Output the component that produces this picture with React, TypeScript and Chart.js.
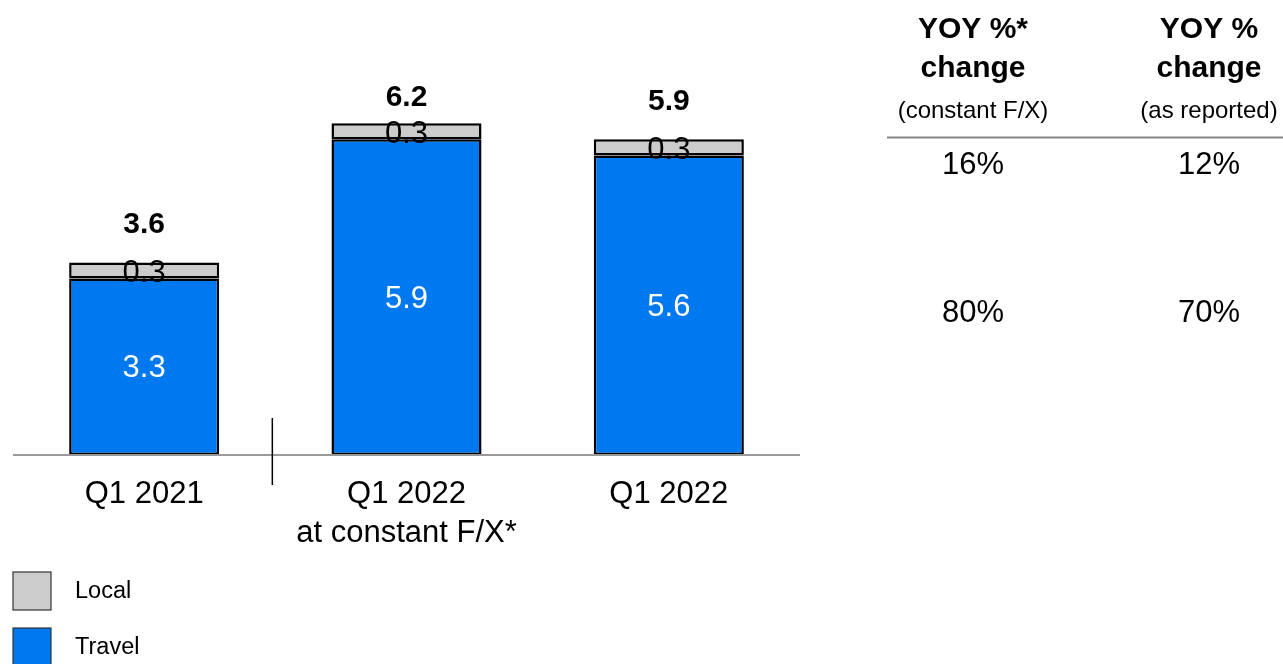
import React, { useEffect, useRef } from "react";
import { Chart, registerables } from "chart.js";

Chart.register(...registerables);

const categories: (string | string[])[] = ["Q1 2021", ["Q1 2022", "at constant F/X*"], "Q1 2022"];
const travelValues = [3.3, 5.9, 5.6];
const localValues = [0.3, 0.3, 0.3];
const totalLabels = ["3.6", "6.2", "5.9"];
const seriesNames = ["Travel", "Local"];
const tableHeaders = [
  ["YOY %*", "change", "(constant F/X)"],
  ["YOY %", "change", "(as reported)"],
];
const yoyConstant = ["16%", "80%"];
const yoyReported = ["12%", "70%"];

const BLUE = "#0078EF";
const GRAY = "#CCCCCC";
const BORDER = "#000000";
const FONT = "'Liberation Sans', Arial, Helvetica, sans-serif";

const overlayPlugin = {
  id: "overlay",
  afterDatasetsDraw(chart: any) {
    const ctx = chart.ctx as CanvasRenderingContext2D;
    const xs = chart.scales.x;
    const ys = chart.scales.y;
    const area = chart.chartArea;
    const base = ys.getPixelForValue(0);
    ctx.save();

    // baseline
    ctx.strokeStyle = "#999999";
    ctx.lineWidth = 2;
    ctx.beginPath();
    ctx.moveTo(area.left, base);
    ctx.lineTo(area.right, base);
    ctx.stroke();

    // separator between first and second category
    const sepX = (xs.getPixelForValue(0) + xs.getPixelForValue(1)) / 2 - 3;
    ctx.strokeStyle = "#000";
    ctx.lineWidth = 1.5;
    ctx.beginPath();
    ctx.moveTo(sepX, base - 37);
    ctx.lineTo(sepX, base + 30);
    ctx.stroke();

    ctx.textAlign = "center";
    ctx.textBaseline = "middle";

    const travelMeta = chart.getDatasetMeta(0);
    const localMeta = chart.getDatasetMeta(1);
    categories.forEach((cat, i) => {
      const cx = xs.getPixelForValue(i);
      const tBar = travelMeta.data[i];
      const lBar = localMeta.data[i];
      // travel value
      ctx.fillStyle = "#fff";
      ctx.font = `31px ${FONT}`;
      ctx.fillText(String(travelValues[i]), cx, (tBar.y + base) / 2 + 2);
      // local value
      ctx.fillStyle = "#000";
      ctx.fillText(String(localValues[i]), cx, (lBar.y + tBar.y) / 2 + 3);
      // total
      ctx.font = `bold 30px ${FONT}`;
      const ty = Math.max(lBar.y - 38, 98);
      ctx.fillText(totalLabels[i], cx, ty);
      // category label
      ctx.font = `31px ${FONT}`;
      const lines = Array.isArray(cat) ? cat : [cat];
      lines.forEach((ln, k) => {
        ctx.fillText(ln, cx, base + 39 + k * 39);
      });
    });

    // legend (Local on top, Travel below)
    const legendItems = [
      { name: seriesNames[1], color: GRAY },
      { name: seriesNames[0], color: BLUE },
    ];
    legendItems.forEach((it, k) => {
      const y0 = 572 + k * 56;
      ctx.fillStyle = it.color;
      ctx.fillRect(13, y0, 38, 38);
      ctx.strokeStyle = "#333";
      ctx.lineWidth = 1.2;
      ctx.strokeRect(13, y0, 38, 38);
      ctx.fillStyle = "#000";
      ctx.font = `23.5px ${FONT}`;
      ctx.textAlign = "left";
      ctx.fillText(it.name, 75, y0 + 20);
    });

    // table
    const colX = [973, 1209];
    ctx.textAlign = "center";
    tableHeaders.forEach((h, c) => {
      ctx.fillStyle = "#000";
      ctx.font = `bold 30px ${FONT}`;
      ctx.fillText(h[0], colX[c], 30);
      ctx.fillText(h[1], colX[c], 69);
      ctx.font = `24px ${FONT}`;
      ctx.fillText(h[2], colX[c], 111);
    });
    ctx.strokeStyle = "#888";
    ctx.lineWidth = 2;
    ctx.beginPath();
    ctx.moveTo(887, 137.5);
    ctx.lineTo(1283, 137.5);
    ctx.stroke();
    ctx.fillStyle = "#000";
    ctx.font = `31px ${FONT}`;
    const rowY = [165, 313];
    rowY.forEach((y, r) => {
      ctx.fillText(yoyConstant[r], colX[0], y);
      ctx.fillText(yoyReported[r], colX[1], y);
    });

    ctx.restore();
  },
};

export default function App() {
  const ref = useRef<HTMLCanvasElement>(null);
  useEffect(() => {
    if (!ref.current) return;
    const chart = new Chart(ref.current, {
      type: "bar",
      data: {
        labels: categories as any,
        datasets: [
          {
            label: seriesNames[0],
            data: travelValues,
            backgroundColor: BLUE,
            borderColor: BORDER,
            borderWidth: 2.5,
            borderSkipped: false,
            barPercentage: 0.572,
            categoryPercentage: 1,
          },
          {
            label: seriesNames[1],
            data: localValues,
            backgroundColor: GRAY,
            borderColor: BORDER,
            borderWidth: 2.5,
            borderSkipped: false,
            barPercentage: 0.572,
            categoryPercentage: 1,
          },
        ],
      },
      options: {
        responsive: false,
        animation: false,
        layout: { padding: { left: 13, right: 483, top: 27, bottom: 209 } },
        plugins: { legend: { display: false }, tooltip: { enabled: false } },
        scales: {
          x: { stacked: true, display: false },
          y: { stacked: true, display: false, min: 0, max: 8 },
        },
      },
      plugins: [overlayPlugin],
    });
    return () => chart.destroy();
  }, []);
  return (
    <div style={{ position: "fixed", left: 0, top: 0, width: 1283, height: 664, background: "#fff" }}>
      <canvas ref={ref} width={1283} height={664} style={{ display: "block" }} />
    </div>
  );
}
